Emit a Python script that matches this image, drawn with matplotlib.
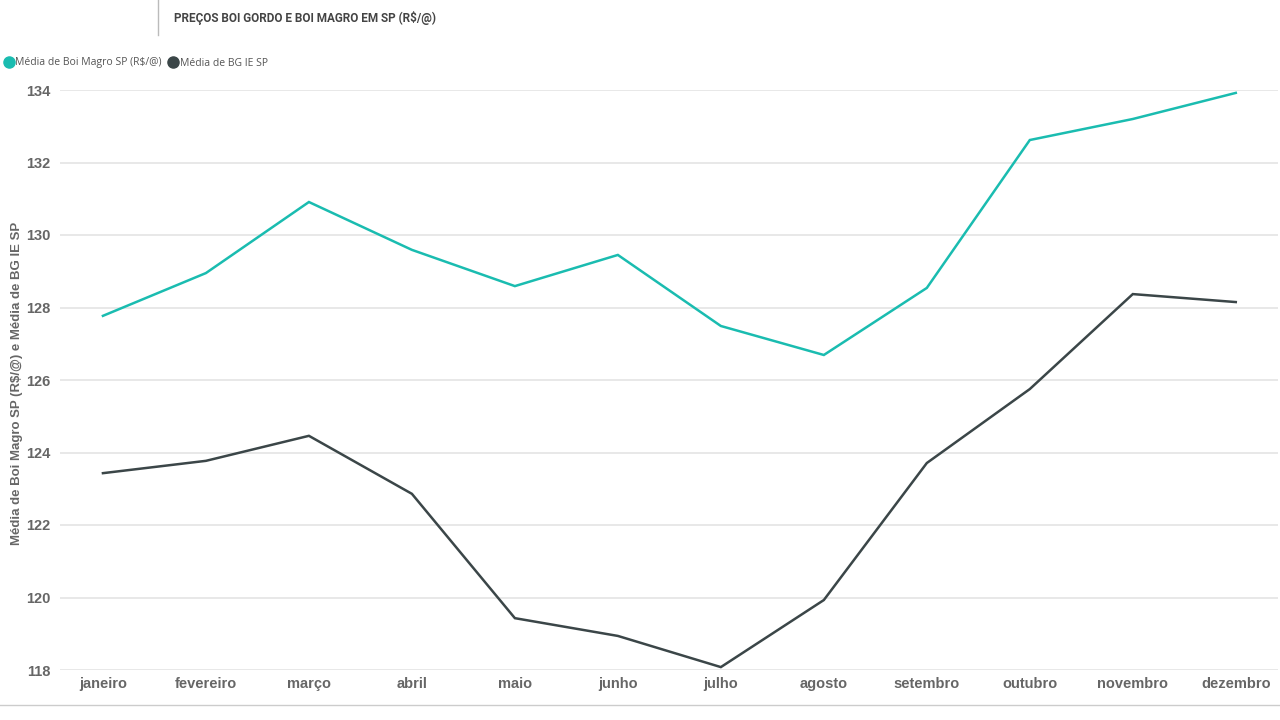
import matplotlib.pyplot as plt
from matplotlib.lines import Line2D


months = [
    "janeiro", "fevereiro", "março", "abril", "maio", "junho",
    "julho", "agosto", "setembro", "outubro", "novembro", "dezembro",
]
boi_magro = [
    127.77, 128.95, 130.91, 129.59, 128.59, 129.45,
    127.49, 126.69, 128.54, 132.62, 133.20, 133.92,
]
bg_ie = [
    123.43, 123.77, 124.46, 122.86, 119.43, 118.94,
    118.08, 119.93, 123.71, 125.75, 128.37, 128.15,
]
y_ticks = [118, 120, 122, 124, 126, 128, 130, 132, 134]

TEAL = "#1ABCB0"
DARK = "#3B4648"
LABEL_GREY = "#666666"


def main():
    fig = plt.figure(figsize=(12.8, 7.2), dpi=100)
    ax = fig.add_axes([60 / 1280, 50 / 720, 1218 / 1280, 580 / 720])

    x = range(len(months))
    ax.plot(x, boi_magro, color=TEAL, linewidth=1.8, solid_joinstyle="miter")
    ax.plot(x, bg_ie, color=DARK, linewidth=1.8, solid_joinstyle="miter")

    ax.set_xlim(-0.417, 11.41)
    ax.set_ylim(118, 134)
    ax.set_yticks(y_ticks)
    ax.set_xticks(list(x))
    ax.set_xticklabels(months)

    for side in ["top", "right", "left", "bottom"]:
        ax.spines[side].set_visible(False)
    ax.grid(axis="y", color="#E6E6E6", linewidth=1.3)
    ax.set_axisbelow(True)
    ax.tick_params(length=0)
    ax.tick_params(axis="y", pad=7)
    ax.tick_params(axis="x", pad=5)

    for label in ax.get_xticklabels() + ax.get_yticklabels():
        label.set_fontfamily("Liberation Sans")
        label.set_fontweight("bold")
        label.set_fontsize(10.5)
        label.set_color(LABEL_GREY)

    fig.text(
        17 / 1280, 1 - 383 / 720,
        "Média de Boi Magro SP (R$/@) e Média de BG IE SP",
        rotation=90, ha="center", va="center",
        family="Liberation Sans", fontweight="bold",
        fontsize=9.5, color=LABEL_GREY,
    )

    # title with the little divider on its left
    fig.add_artist(Line2D([158 / 1280, 158 / 1280], [1.0, 1 - 35 / 720],
                          color="#BBBBBB", linewidth=1))
    fig.text(
        174 / 1280, 1 - 18 / 720,
        "PREÇOS BOI GORDO E BOI MAGRO EM SP (R$/@)",
        ha="left", va="center", family="Roboto", fontweight="bold",
        fontsize=8.5, color="#444444",
    )

    handles = [
        Line2D([], [], marker="o", linestyle="none", markersize=8,
               markerfacecolor=TEAL, markeredgecolor=TEAL),
        Line2D([], [], marker="o", linestyle="none", markersize=8,
               markerfacecolor=DARK, markeredgecolor=DARK),
    ]
    fig.legend(
        handles,
        ["Média de Boi Magro SP (R$/@)", "Média de BG IE SP"],
        loc="center left",
        bbox_to_anchor=(6 / 1280, 1 - 63 / 720),
        ncol=2, frameon=False, borderpad=0, borderaxespad=0,
        handlelength=0.6, handletextpad=0.3, columnspacing=0.8,
        prop={"family": "Open Sans", "size": 7.5},
        labelcolor="#555555",
    )

    # thin separator along the bottom edge
    fig.add_artist(Line2D([0, 1], [1 - 705 / 720, 1 - 705 / 720],
                          color="#CCCCCC", linewidth=1))

    fig.savefig("out.png", dpi=100)
    plt.close(fig)


if __name__ == "__main__":
    main()
